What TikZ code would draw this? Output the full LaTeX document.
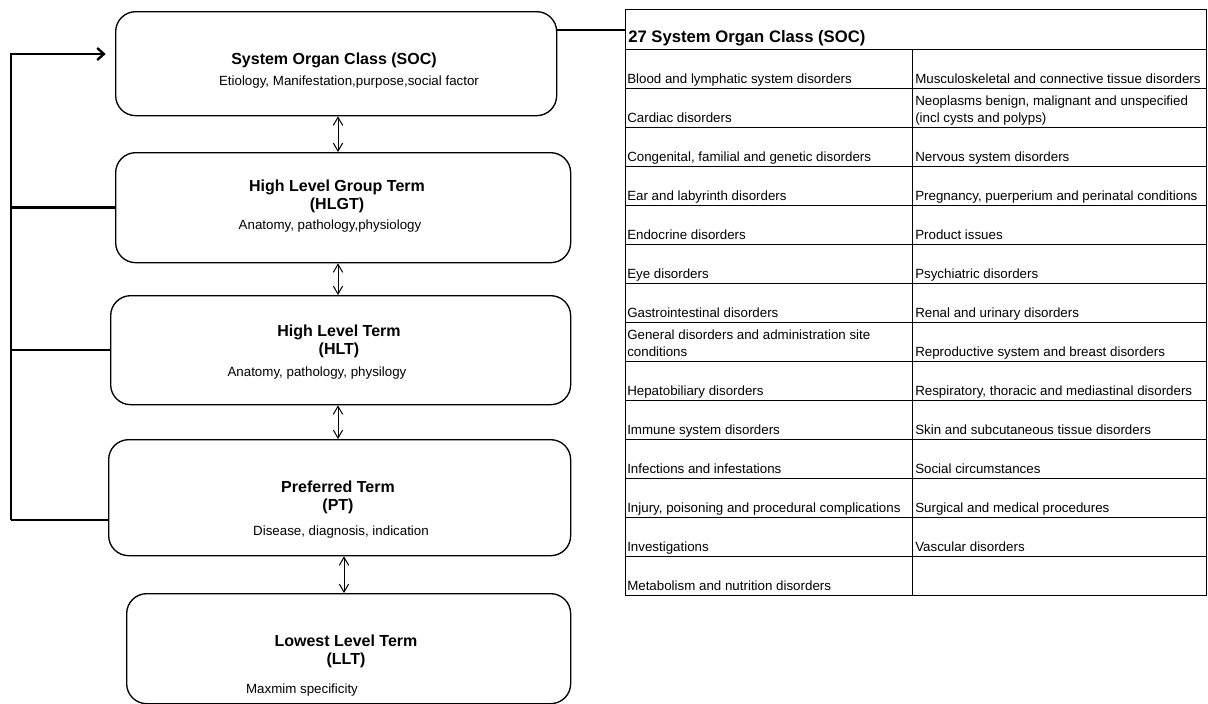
\documentclass[tikz,border=0pt]{standalone}
\usepackage{fontspec}
\setmainfont{Liberation Sans}
\usetikzlibrary{arrows.meta}
\tikzstyle{term} = [rectangle, draw, line width=1pt, rounded corners=15pt, anchor=north west, inner sep=0pt]
\tikzstyle{title} = [font=\fontsize{12}{13.5}\selectfont\bfseries, align=center, inner sep=0pt]
\tikzstyle{note} = [font=\fontsize{10}{12}\selectfont, inner sep=0pt]
\tikzstyle{cell} = [font=\fontsize{10}{12.75}\selectfont, anchor=base west, inner sep=0pt, align=left]
\tikzstyle{updown} = [draw, line width=0.75pt, {Straight Barb[length=6pt,width=7pt]}-{Straight Barb[length=6pt,width=7pt]}]
\tikzstyle{feed} = [draw, line width=1.8pt]
\tikzstyle{grid} = [draw, line width=0.75pt]

\begin{document}
\begin{tikzpicture}[x=0.75pt, y=-0.75pt]
    \useasboundingbox (0,0) rectangle (1208,704);
    % Place nodes
    \node [term, minimum width=330.75pt, minimum height=78pt] (soc) at (115,11) {};
    \node [term, minimum width=341.25pt, minimum height=82.5pt] (hlgt) at (115,152) {};
    \node [term, minimum width=345pt, minimum height=81.75pt] (hlt) at (110,295) {};
    \node [term, minimum width=346.5pt, minimum height=87pt] (pt) at (108,439) {};
    \node [term, minimum width=333pt, minimum height=82.5pt] (llt) at (126,593) {};

    \node [title] (soctitle) at (334,60) {System Organ Class (SOC)};
    \node [note] (socnote) at (349,82) {Etiology, Manifestation,purpose,social factor};
    \node [title] (hlgttitle) at (337,196) {High Level Group Term\\(HLGT)};
    \node [note] (hlgtnote) at (330,226) {Anatomy, pathology,physiology};
    \node [title] (hlttitle) at (339,341) {High Level Term\\(HLT)};
    \node [note] (hltnote) at (317,373) {Anatomy, pathology, physilogy};
    \node [title] (pttitle) at (338,497) {Preferred Term\\(PT)};
    \node [note] (ptnote) at (341,532) {Disease, diagnosis, indication};
    \node [title] (llttitle) at (346,651) {Lowest Level Term\\(LLT)};
    \node [note] (lltnote) at (302,690) {Maxmim specificity};

    % The SOC table
    \node [grid, rectangle, anchor=north west, minimum width=435.75pt, minimum height=439.5pt, inner sep=0pt] (soctab) at (625,9) {};
    \node [font=\fontsize{12.5}{14}\selectfont\bfseries, anchor=base west, inner sep=0pt] (tabhead) at (628,42) {27 System Organ Class (SOC)};
    \foreach \k in {0,...,13}
        \draw [grid] (625,{49+39*\k}) -- (1206,{49+39*\k});
    \draw [grid] (912,49) -- (912,595);

    \node [cell] (blood) at (627,83) {Blood and lymphatic system disorders};
    \node [cell] (cardiac) at (627,122) {Cardiac disorders};
    \node [cell] (congenital) at (627,161) {Congenital, familial and genetic disorders};
    \node [cell] (ear) at (627,200) {Ear and labyrinth disorders};
    \node [cell] (endocrine) at (627,239) {Endocrine disorders};
    \node [cell] (eye) at (627,278) {Eye disorders};
    \node [cell] (gastro) at (627,317) {Gastrointestinal disorders};
    \node [cell] (general) at (627,356) {General disorders and administration site\\conditions};
    \node [cell] (hepato) at (627,395) {Hepatobiliary disorders};
    \node [cell] (immune) at (627,434) {Immune system disorders};
    \node [cell] (infect) at (627,473) {Infections and infestations};
    \node [cell] (injury) at (627,512) {Injury, poisoning and procedural complications};
    \node [cell] (invest) at (627,551) {Investigations};
    \node [cell] (metab) at (627,590) {Metabolism and nutrition disorders};

    \node [cell] (musculo) at (915,83) {Musculoskeletal and connective tissue disorders};
    \node [cell] (neoplasm) at (915,122) {Neoplasms benign, malignant and unspecified\\(incl cysts and polyps)};
    \node [cell] (nervous) at (915,161) {Nervous system disorders};
    \node [cell] (pregnancy) at (915,200) {Pregnancy, puerperium and perinatal conditions};
    \node [cell] (product) at (915,239) {Product issues};
    \node [cell] (psych) at (915,278) {Psychiatric disorders};
    \node [cell] (renal) at (915,317) {Renal and urinary disorders};
    \node [cell] (reprod) at (915,356) {Reproductive system and breast disorders};
    \node [cell] (resp) at (915,395) {Respiratory, thoracic and mediastinal disorders};
    \node [cell] (skin) at (915,434) {Skin and subcutaneous tissue disorders};
    \node [cell] (social) at (915,473) {Social circumstances};
    \node [cell] (surgical) at (915,512) {Surgical and medical procedures};
    \node [cell] (vascular) at (915,551) {Vascular disorders};

    % Draw edges
    \coordinate (midaxis) at (338,0);
    \coordinate (lowaxis) at (344,0);
    \coordinate (railtop) at (11,54);
    \coordinate (railbot) at (11,520);
    \coordinate (link) at (0,30);
    \path [updown] (midaxis |- soc.south) -- (midaxis |- hlgt.north);
    \path [updown] (midaxis |- hlgt.south) -- (midaxis |- hlt.north);
    \path [updown] (midaxis |- hlt.south) -- (midaxis |- pt.north);
    \path [updown] (lowaxis |- pt.south) -- (lowaxis |- llt.north);
    \path [feed, shorten >=7pt, -{Straight Barb[length=5pt,width=9pt]}] (railbot) -- (railtop) -- (soc.west |- railtop);
    \path [feed] (railtop |- hlgt.west) -- (hlgt.west);
    \path [feed] (railtop |- hlt.west) -- (hlt.west);
    \path [feed] (railbot) -- (pt.west |- railbot);
    \path [feed] (soc.east |- link) -- (soctab.west |- link);
\end{tikzpicture}
\end{document}
